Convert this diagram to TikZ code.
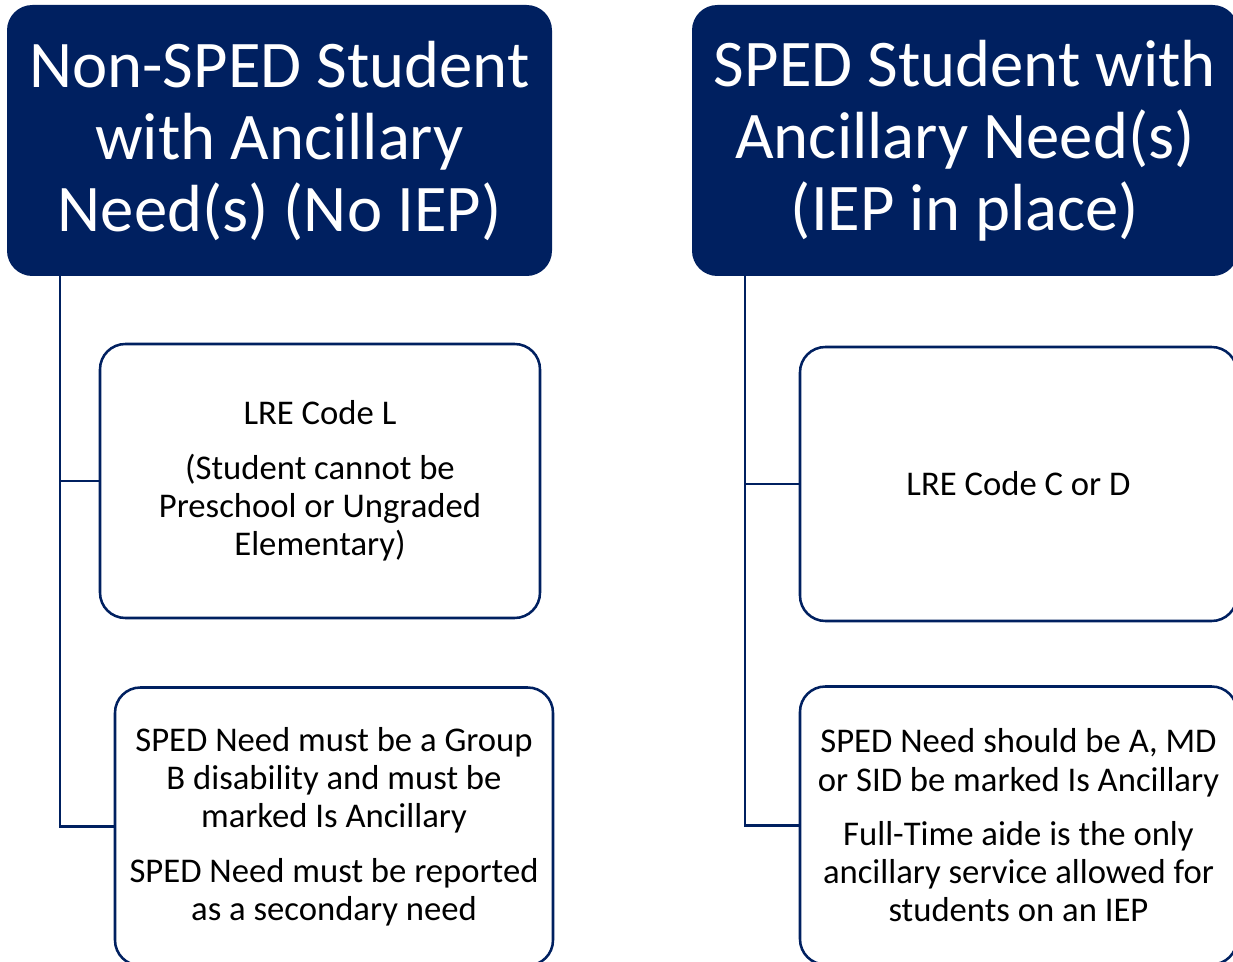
\documentclass[tikz,border=0pt]{standalone}
\usepackage{fontspec}
\setmainfont{Carlito}
\definecolor{navy}{HTML}{002060}
\begin{document}
\begin{tikzpicture}[x=0.75pt,y=-0.75pt,
  header/.style={fill=navy,text=white,rounded corners=19pt,inner sep=0pt,
    align=center,font=\fontsize{50}{54}\selectfont},
  infobox/.style={draw=navy,line width=1.9pt,fill=white,rounded corners=19pt,inner sep=0pt,
    align=center,font=\fontsize{26}{28.7}\selectfont},
  conn/.style={draw=navy,line width=1.9pt}]
\useasboundingbox (0,0) rectangle (1233,962);
\clip (0,0) rectangle (1233,962);
% headers
\node[header,minimum width=545*0.75pt,minimum height=271*0.75pt] (h1) at (279.5,140.5)
  {\raisebox{-1.5pt}{\parbox{390pt}{\centering Non-SPED Student\\with Ancillary\\Need(s) (No IEP)}}};
\node[header,minimum width=546*0.75pt,minimum height=271*0.75pt] (h2) at (965,140.5)
  {\raisebox{-1.5pt}{\parbox{390pt}{\centering SPED Student with\\Ancillary Need(s)\\(IEP in place)}}};
% boxes
\node[infobox,minimum width=440*0.75pt,minimum height=274*0.75pt] (b1) at (320,481)
  {LRE Code L\\[12pt](Student cannot be\\Preschool or Ungraded\\Elementary)};
\node[infobox,minimum width=438*0.75pt,minimum height=278*0.75pt] (b2) at (334,826.5)
  {SPED Need must be a Group\\B disability and must be\\marked Is Ancillary\\[12pt]SPED Need must be reported\\as a secondary need};
\node[infobox,minimum width=437*0.75pt,minimum height=274*0.75pt] (b3) at (1018.5,484)
  {LRE Code C or D};
\node[infobox,minimum width=437*0.75pt,minimum height=278*0.75pt] (b4) at (1018.5,825.5)
  {SPED Need should be A, MD\\or SID be marked Is Ancillary\\[12pt]Full-Time aide is the only\\ancillary service allowed for\\students on an IEP};
% connectors
\coordinate (l1) at (60,276);
\coordinate (r1) at (745,276);
\draw[conn] (l1) |- (b1.west);
\draw[conn] (l1) |- (b2.west);
\draw[conn] (r1) |- (b3.west);
\draw[conn] (r1) |- (b4.west);
\end{tikzpicture}
\end{document}
